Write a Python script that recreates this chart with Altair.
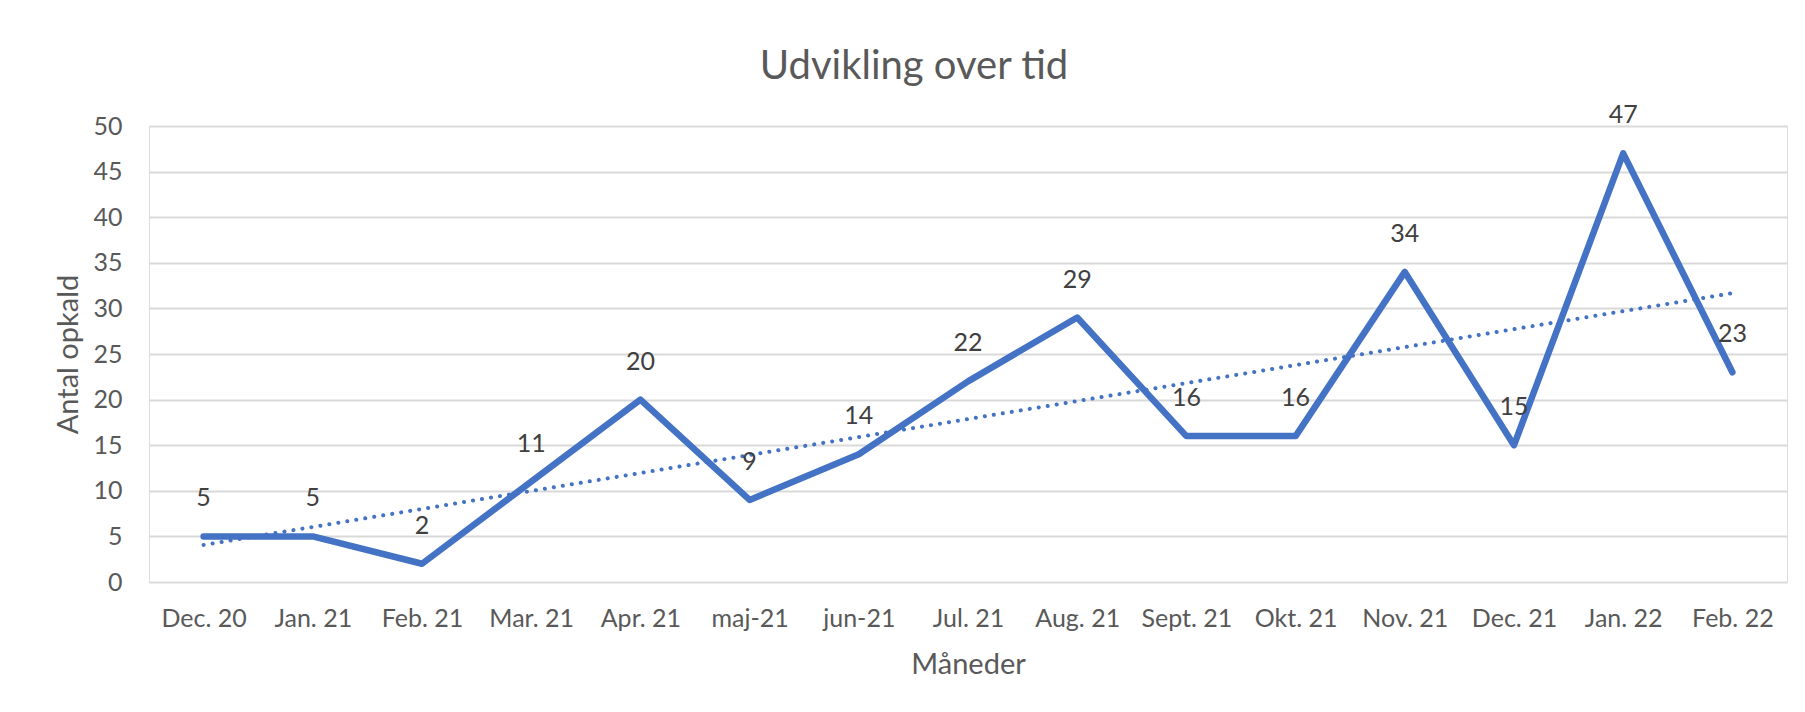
import altair as alt
import pandas as pd

months = ["Dec. 20", "Jan. 21", "Feb. 21", "Mar. 21", "Apr. 21", "maj-21", "jun-21",
          "Jul. 21", "Aug. 21", "Sept. 21", "Okt. 21", "Nov. 21", "Dec. 21", "Jan. 22", "Feb. 22"]
values = [5, 5, 2, 11, 20, 9, 14, 22, 29, 16, 16, 34, 15, 47, 23]
y_ticks = [0, 5, 10, 15, 20, 25, 30, 35, 40, 45, 50]

df = pd.DataFrame({"idx": list(range(len(months))), "label": months, "val": values})

FONT = "Lato"
GREY = "#595959"
BLUE = "#4472C4"

label_expr = "[" + ",".join("'" + m + "'" for m in months) + "][datum.value]"

x_enc = alt.X(
    "idx:Q",
    scale=alt.Scale(domain=[-0.5, len(months) - 0.5], nice=False, zero=False),
    axis=alt.Axis(
        values=list(range(len(months))), labelExpr=label_expr, grid=False, domain=False,
        ticks=False, labelPadding=24, labelFont=FONT, labelFontSize=25, labelColor=GREY,
        labelFlush=False, labelOverlap=False, title="Måneder", titleFont=FONT,
        titleFontSize=29, titleFontWeight="normal", titleColor=GREY,
        titleBaseline="alphabetic", titleY=91,
    ),
)
y_enc = alt.Y(
    "val:Q",
    scale=alt.Scale(domain=[0, 50], nice=False),
    axis=alt.Axis(
        values=y_ticks, grid=True, gridColor="#D9D9D9", gridWidth=2, domain=False,
        ticks=False, labelPadding=27, labelFont=FONT, labelFontSize=25, labelColor=GREY,
        title="Antal opkald", titleFont=FONT, titleFontSize=29, titleFontWeight="normal",
        titleColor=GREY, titleBaseline="alphabetic", titleX=-72,
    ),
)

base = alt.Chart(df)

trend = base.transform_regression("idx", "val").mark_line(
    color=BLUE, strokeWidth=4, strokeDash=[0.1, 9], strokeCap="round"
).encode(x=x_enc, y=y_enc)

line = base.mark_line(
    color=BLUE, strokeWidth=6.5, strokeCap="round", strokeJoin="round"
).encode(x=x_enc, y=y_enc)

labels = base.mark_text(
    font=FONT, fontSize=25, color="#404040", baseline="alphabetic", align="center", dy=-30
).encode(x=x_enc, y=y_enc, text="val:Q")

chart = alt.layer(trend, line, labels).properties(
    width=1638,
    height=456,
    padding={"left": 141, "top": 118, "right": 10, "bottom": 122},
    autosize=alt.AutoSizeParams(type="none"),
    title=alt.TitleParams(
        "Udvikling over tid", font=FONT, fontSize=40, color=GREY, fontWeight="normal",
        anchor="middle", frame="group", baseline="alphabetic", dx=-54, offset=30, dy=46,
    ),
).configure_view(stroke=None).configure(background="white")

chart.save("out.html", embed_options={"renderer": "svg", "actions": False})
